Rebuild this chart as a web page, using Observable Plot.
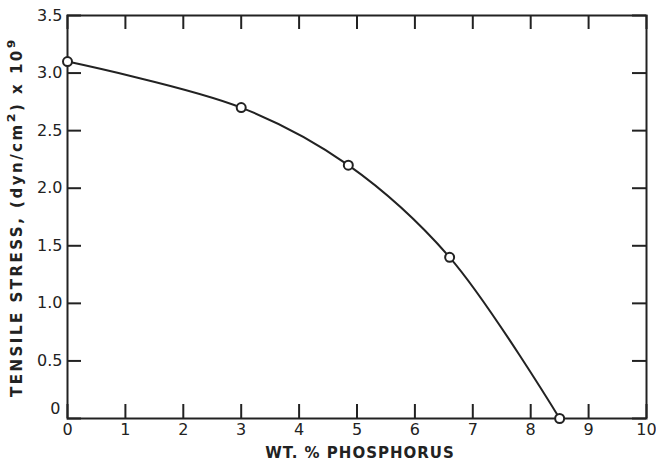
<!DOCTYPE html>
<html>
<head>
<meta charset="utf-8">
<script src="https://cdn.jsdelivr.net/npm/d3@7"></script>
<script src="https://cdn.jsdelivr.net/npm/@observablehq/plot@0.6"></script>
<style>
  html, body { margin: 0; padding: 0; background: #fff; }
  svg { display: block; }
</style>
</head>
<body>
<div id="chart"></div>
<script>
const phosphorus = [0, 3, 4.85, 6.6, 8.5];
const stress = [3.1, 2.7, 2.2, 1.4, 0];
const xTicks = [0, 1, 2, 3, 4, 5, 6, 7, 8, 9, 10];
const yTicks = [0, 0.5, 1.0, 1.5, 2.0, 2.5, 3.0, 3.5];
const xLabel = "WT. % PHOSPHORUS";
const yLabel = "TENSILE STRESS, (dyn/cm²) x 10⁹";

const data = phosphorus.map((p, i) => ({p, s: stress[i]}));
const ink = "#222";
const font = "DejaVu Sans, sans-serif";

const W = 656, H = 466, ML = 67, MR = 10, MT = 15, MB = 48;
const plotW = W - ML - MR, plotH = H - MT - MB;
const tickLen = 14;

const chart = Plot.plot({
  width: W,
  height: H,
  marginLeft: ML,
  marginRight: MR,
  marginTop: MT,
  marginBottom: MB,
  style: {fontFamily: font, background: "#fff", color: ink},
  x: {domain: [0, 10], axis: null},
  y: {domain: [0, 3.5], axis: null},
  marks: [
    // inward ticks on all four sides
    Plot.gridY(yTicks, {insetRight: plotW - tickLen, stroke: ink, strokeOpacity: 1, strokeWidth: 2}),
    Plot.gridY(yTicks, {insetLeft: plotW - tickLen, stroke: ink, strokeOpacity: 1, strokeWidth: 2}),
    Plot.gridX(xTicks, {insetTop: plotH - tickLen, stroke: ink, strokeOpacity: 1, strokeWidth: 2}),
    Plot.gridX(xTicks, {insetBottom: plotH - tickLen, stroke: ink, strokeOpacity: 1, strokeWidth: 2}),
    Plot.frame({stroke: ink, strokeWidth: 2}),
    // tick labels
    Plot.text(yTicks.filter(d => d > 0), {y: d => d, text: d => d.toFixed(1), frameAnchor: "left", textAnchor: "end", dx: -5, fontSize: 16, fill: ink}),
    Plot.text(yTicks.filter(d => d === 0), {y: d => d, text: d => "0", frameAnchor: "left", textAnchor: "end", dx: -7, dy: -10, fontSize: 16, fill: ink}),
    Plot.text(xTicks, {x: d => d, text: d => String(d), frameAnchor: "bottom", lineAnchor: "top", dy: 5, fontSize: 16, fill: ink}),
    // axis titles
    Plot.text([xLabel], {text: d => d, frameAnchor: "bottom", textAnchor: "middle", lineAnchor: "middle", dy: 35, dx: 3, fontSize: 15, fontWeight: "bold", fill: ink}),
    Plot.text([yLabel], {text: d => d, frameAnchor: "left", textAnchor: "middle", lineAnchor: "middle", rotate: -90, dx: -50, dy: 0, fontSize: 15, fontWeight: "bold", fill: ink}),
    // data
    Plot.line(data, {x: "p", y: "s", curve: "catmull-rom", stroke: ink, strokeWidth: 2}),
    Plot.dot(data, {x: "p", y: "s", r: 4.5, fill: "#fff", stroke: ink, strokeWidth: 2})
  ]
});

d3.select(chart).selectAll("text").each(function() {
  const t = this.textContent;
  if (t === yLabel) {
    const sel = d3.select(this).style("letter-spacing", "2.5px");
    // enlarge the superscript glyphs, keeping the same text content
    const parts = yLabel.split(/([²⁹])/);
    sel.text(null);
    parts.forEach(p => {
      if (!p) return;
      const ts = sel.append("tspan").text(p);
      if (p === "²" || p === "⁹") ts.attr("font-size", 20);
    });
  }
  if (t === xLabel) d3.select(this).style("letter-spacing", "1px");
});

document.getElementById("chart").appendChild(chart);
</script>
</body>
</html>
